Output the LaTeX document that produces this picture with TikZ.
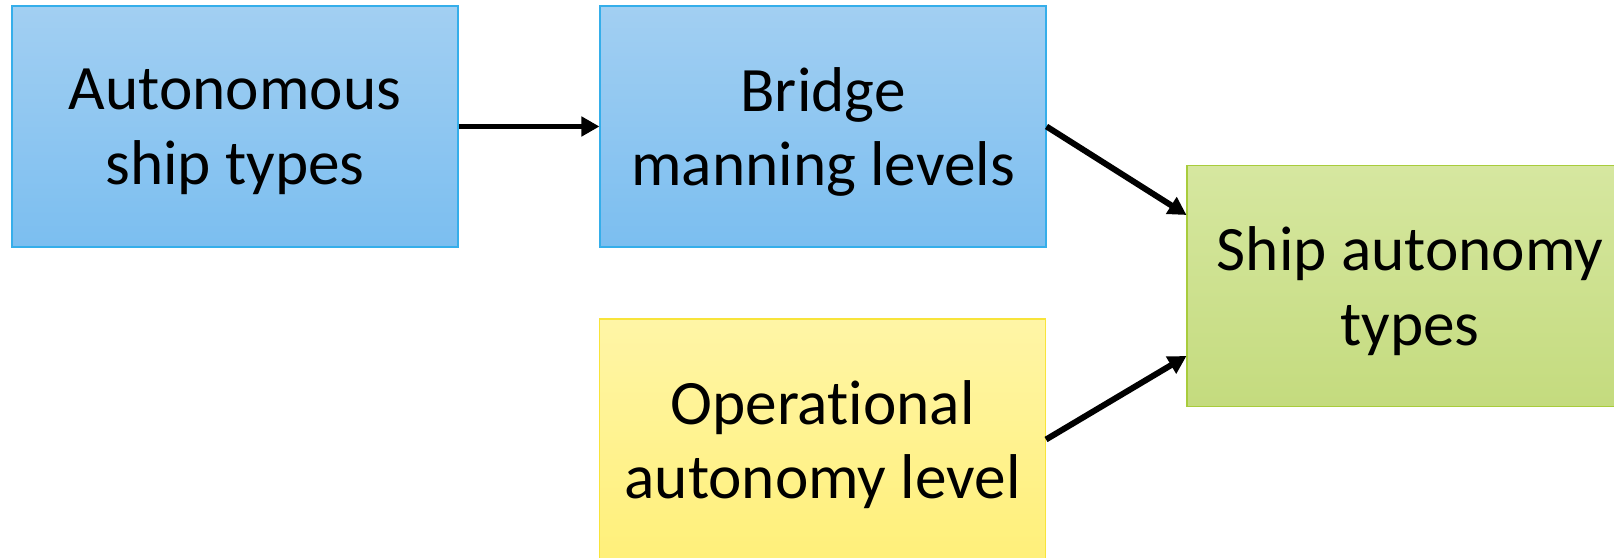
\documentclass[tikz,border=0pt]{standalone}
\usepackage{fontspec}
\setmainfont{Carlito}[RawFeature=-liga]
\usepackage{xcolor}
\usetikzlibrary{arrows.meta}
\definecolor{bluetop}{HTML}{A2CFF2}
\definecolor{bluebot}{HTML}{7BBEF0}
\definecolor{blueedge}{HTML}{35AEEA}
\definecolor{yeltop}{HTML}{FFF5A6}
\definecolor{yelbot}{HTML}{FFF07A}
\definecolor{yeledge}{HTML}{F8E43A}
\definecolor{grntop}{HTML}{D6E7A0}
\definecolor{grnbot}{HTML}{C4DB7E}
\definecolor{grnedge}{HTML}{A8CC3C}

\tikzset{
  box/.style={rectangle, minimum width=8.92cm, minimum height=4.82cm, align=center,
    font=\fontsize{36}{42.5}\selectfont, text depth=0pt, line width=0.6pt, inner sep=0pt},
  bluebox/.style={box, draw=blueedge, top color=bluetop, bottom color=bluebot},
  yelbox/.style={box, draw=yeledge, top color=yeltop, bottom color=yelbot},
  grnbox/.style={box, draw=grnedge, top color=grntop, bottom color=grnbot},
  link/.style={line width=3.4pt, -{Triangle[length=0.36cm,width=0.38cm]}}
}

\begin{document}
\begin{tikzpicture}
\useasboundingbox (0,0) rectangle (32.28,11.14);
\begin{scope}
\clip (0,0) rectangle (32.28,11.14);
\node[bluebox] (types) at (4.70,8.61) {Autonomous\\ship types};
\node[bluebox] (bridge) at (16.46,8.61) {Bridge\\manning levels};
\node[yelbox] (oper) at (16.45,2.35) {Operational\\autonomy level};
\node[grnbox] (sat) at (28.20,5.42) {Ship autonomy\\types};
\end{scope}
% connectors
\draw[link] (types) -- (bridge);
\draw[link] (bridge.east) -- ([yshift=1.42cm]sat.west);
\draw[link] (oper.east) -- ([yshift=-1.40cm]sat.west);
\end{tikzpicture}
\end{document}
